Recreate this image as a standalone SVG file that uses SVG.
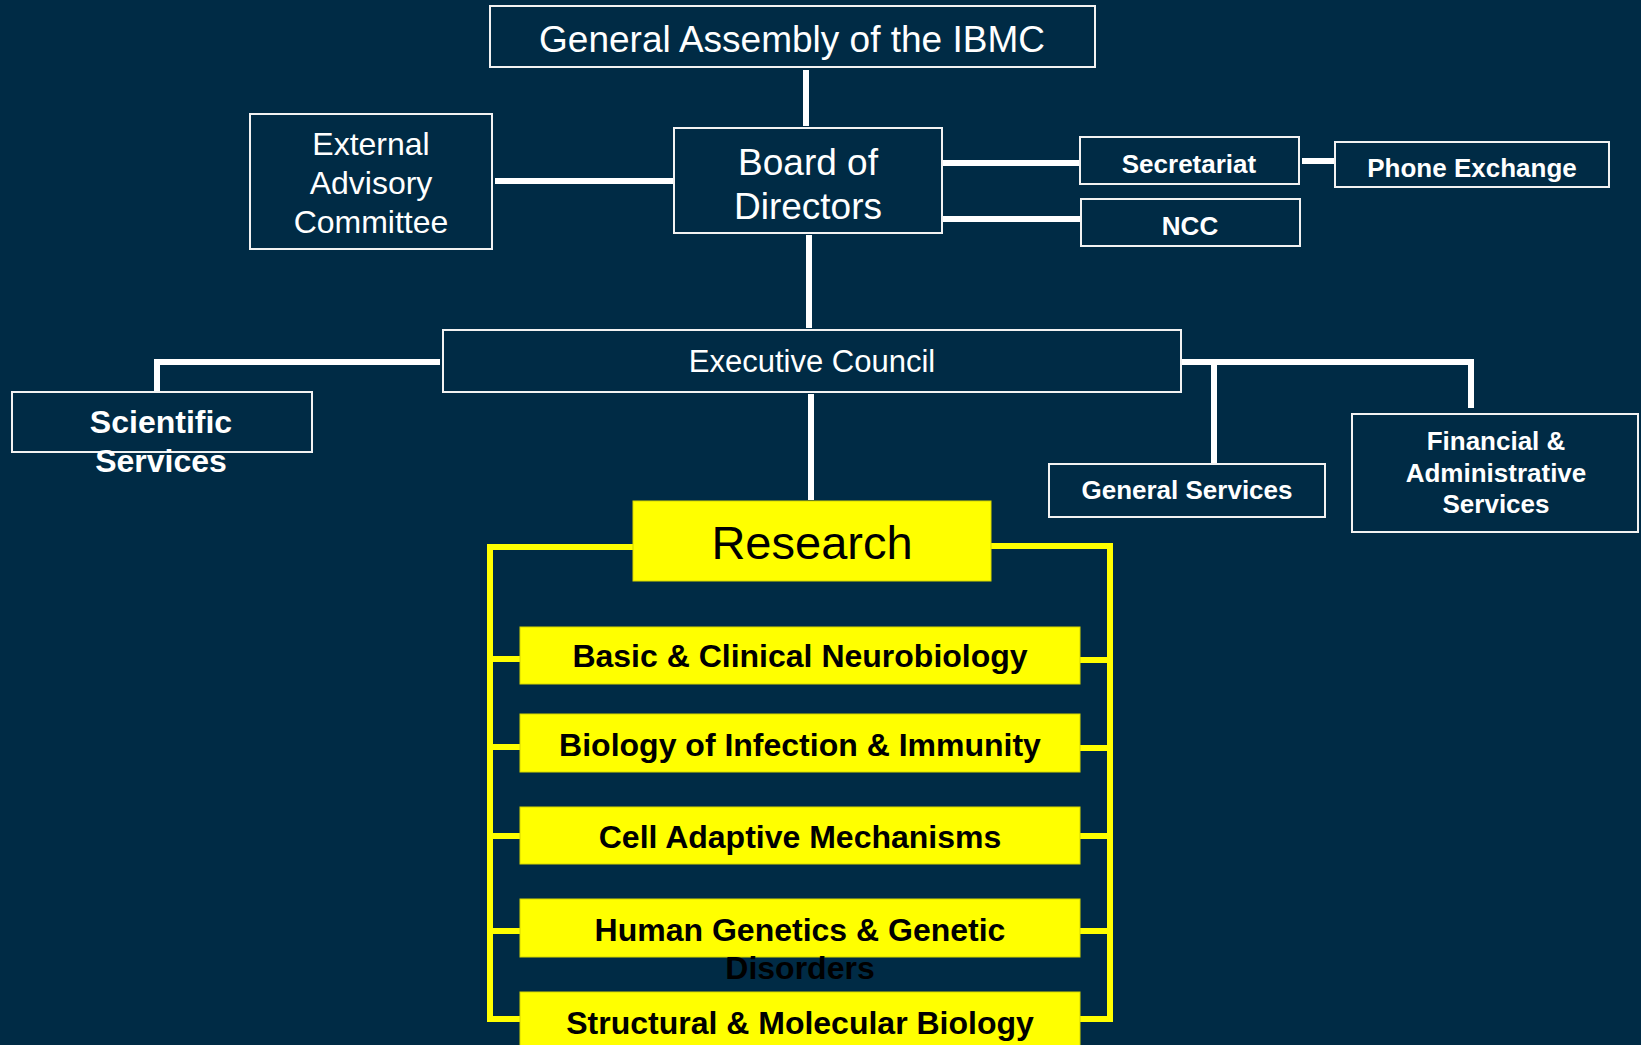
<svg xmlns="http://www.w3.org/2000/svg" width="1641" height="1045" viewBox="0 0 1641 1045">
  <style>
    .box { fill: #002b45; stroke: #f2f2f2; stroke-width: 2; }
    .ybox { fill: #ffff00; stroke: #d8d800; stroke-width: 1; }
    .wl { stroke: #ffffff; stroke-width: 6; fill: none; }
    .yl { stroke: #ffff00; stroke-width: 6; fill: none; }
    text { font-family: "Liberation Sans", Arial, sans-serif; text-anchor: middle; }
    .w { fill: #ffffff; }
    .wb { fill: #ffffff; font-weight: bold; }
    .k { fill: #000000; }
    .kb { fill: #000000; font-weight: bold; font-size: 32px; }
  </style>
  <rect width="1641" height="1045" fill="#002b45"/>

  <!-- white connectors of the governance tree -->
  <g id="connectors">
    <line class="wl" x1="806" y1="70" x2="806" y2="126"/>
    <line class="wl" x1="495" y1="181" x2="674" y2="181"/>
    <line class="wl" x1="942" y1="163" x2="1080" y2="163"/>
    <line class="wl" x1="942" y1="219" x2="1081" y2="219"/>
    <line class="wl" x1="1302" y1="161" x2="1335" y2="161"/>
    <line class="wl" x1="809" y1="235" x2="809" y2="328"/>
    <polyline class="wl" points="440,362 157,362 157,392"/>
    <polyline class="wl" points="1181,362 1471,362 1471,408"/>
    <line class="wl" x1="1214" y1="362" x2="1214" y2="464"/>
    <line class="wl" x1="811" y1="394" x2="811" y2="500"/>
    <!-- yellow bracket joining Research to its departments -->
    <polyline class="yl" points="633,547 490,547 490,1019 520,1019"/>
    <polyline class="yl" points="991,546 1110,546 1110,1019 1080,1019"/>
    <line class="yl" x1="490" y1="659" x2="520" y2="659"/>
    <line class="yl" x1="1080" y1="660" x2="1110" y2="660"/>
    <line class="yl" x1="490" y1="747" x2="520" y2="747"/>
    <line class="yl" x1="1080" y1="748" x2="1110" y2="748"/>
    <line class="yl" x1="490" y1="836" x2="520" y2="836"/>
    <line class="yl" x1="1080" y1="836" x2="1110" y2="836"/>
    <line class="yl" x1="490" y1="931" x2="520" y2="931"/>
    <line class="yl" x1="1080" y1="931" x2="1110" y2="931"/>
  </g>

  <g id="general-assembly">
    <rect class="box" x="490" y="6" width="605" height="61"/>
    <text class="w" x="792" y="52" font-size="37">General Assembly of the IBMC</text>
  </g>

  <g id="board">
    <rect class="box" x="674" y="128" width="268" height="105"/>
    <text class="w" x="808" y="175" font-size="37">Board of</text>
    <text class="w" x="808" y="219" font-size="37">Directors</text>
  </g>

  <g id="external-advisory">
    <rect class="box" x="250" y="114" width="242" height="135"/>
    <text class="w" x="371" y="155" font-size="32">External</text>
    <text class="w" x="371" y="194" font-size="32">Advisory</text>
    <text class="w" x="371" y="233" font-size="32">Committee</text>
  </g>

  <g id="secretariat">
    <rect class="box" x="1080" y="137" width="219" height="47"/>
    <text class="wb" x="1189" y="173" font-size="26">Secretariat</text>
  </g>

  <g id="phone-exchange">
    <rect class="box" x="1335" y="142" width="274" height="45"/>
    <text class="wb" x="1472" y="177" font-size="26">Phone Exchange</text>
  </g>

  <g id="ncc">
    <rect class="box" x="1081" y="199" width="219" height="47"/>
    <text class="wb" x="1190" y="235" font-size="26">NCC</text>
  </g>

  <g id="executive-council">
    <rect class="box" x="443" y="330" width="738" height="62"/>
    <text class="w" x="812" y="372" font-size="31">Executive Council</text>
  </g>

  <g id="scientific-services">
    <rect class="box" x="12" y="392" width="300" height="60"/>
    <text class="wb" x="161" y="433" font-size="32">Scientific</text>
    <text class="wb" x="161" y="472" font-size="32">Services</text>
  </g>

  <g id="general-services">
    <rect class="box" x="1049" y="464" width="276" height="53"/>
    <text class="wb" x="1187" y="499" font-size="26">General Services</text>
  </g>

  <g id="financial-admin">
    <rect class="box" x="1352" y="414" width="286" height="118"/>
    <text class="wb" x="1496" y="450" font-size="26">Financial &amp;</text>
    <text class="wb" x="1496" y="482" font-size="26">Administrative</text>
    <text class="wb" x="1496" y="513" font-size="26">Services</text>
  </g>

  <g id="research">
    <rect class="ybox" x="633" y="501" width="358" height="80"/>
    <text class="k" x="812" y="559" font-size="47">Research</text>
  </g>

  <g id="neurobiology">
    <rect class="ybox" x="520" y="627" width="560" height="57"/>
    <text class="kb" x="800" y="667">Basic &amp; Clinical Neurobiology</text>
  </g>

  <g id="infection-immunity">
    <rect class="ybox" x="520" y="714" width="560" height="58"/>
    <text class="kb" x="800" y="756">Biology of Infection &amp; Immunity</text>
  </g>

  <g id="cell-adaptive">
    <rect class="ybox" x="520" y="807" width="560" height="57"/>
    <text class="kb" x="800" y="848">Cell Adaptive Mechanisms</text>
  </g>

  <g id="human-genetics">
    <rect class="ybox" x="520" y="899" width="560" height="58"/>
    <text class="kb" x="800" y="941">Human Genetics &amp; Genetic</text>
    <text class="kb" x="800" y="979">Disorders</text>
  </g>

  <g id="structural-molecular">
    <rect class="ybox" x="520" y="992" width="560" height="60"/>
    <text class="kb" x="800" y="1034">Structural &amp; Molecular Biology</text>
  </g>
</svg>
